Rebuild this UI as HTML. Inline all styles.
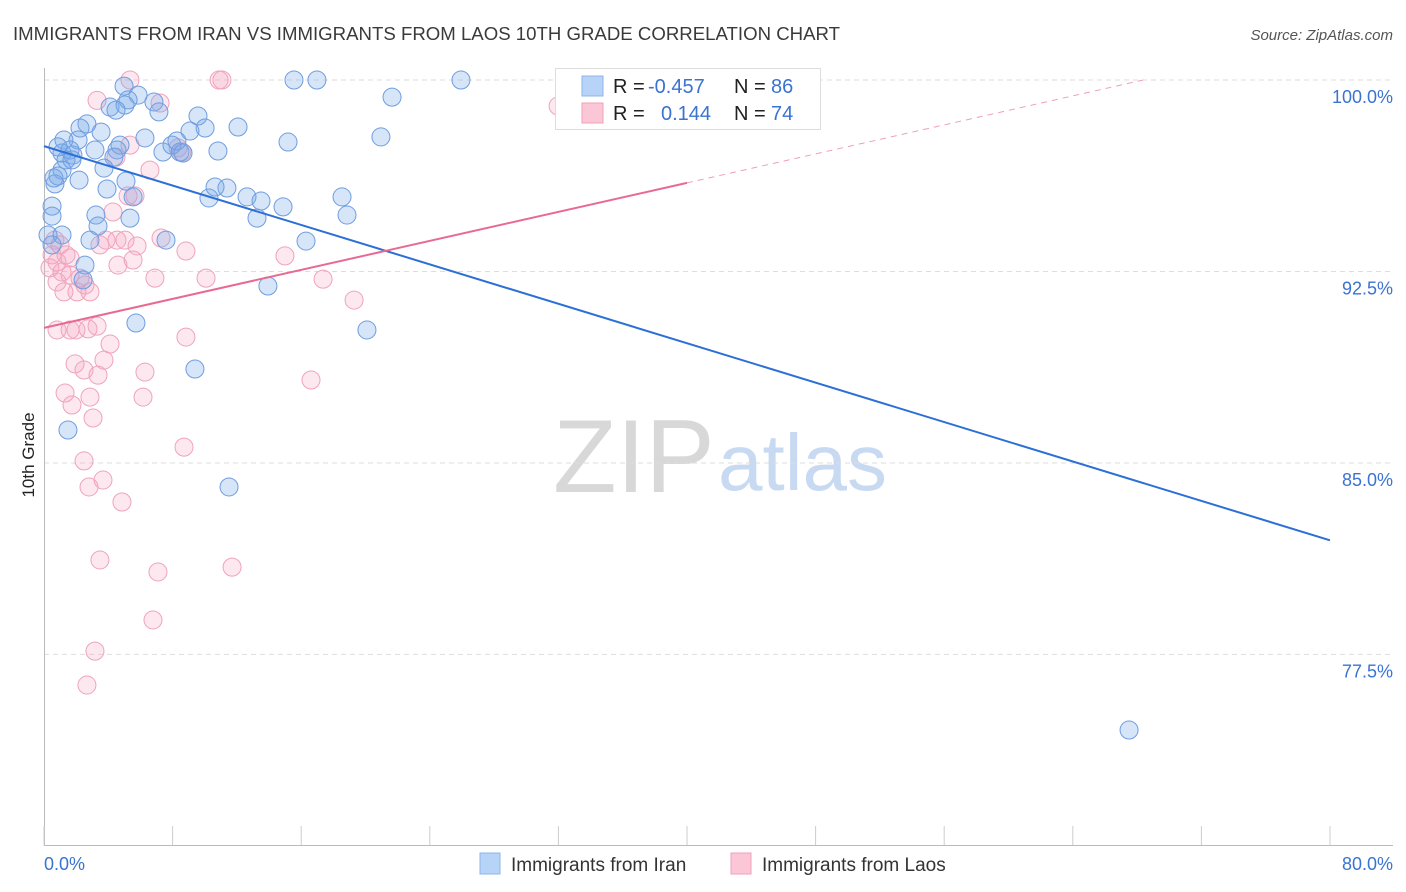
<!DOCTYPE html>
<html><head><meta charset="utf-8">
<style>
body{margin:0;background:#fff;font-family:"Liberation Sans",sans-serif;}
#wrap{position:relative;width:1406px;height:892px;overflow:hidden;}
svg text{font-family:"Liberation Sans",sans-serif;}
</style></head>
<body>
<div id="wrap">
<svg id="chart" width="1406" height="892">
<text x="13" y="40" font-size="18.5" fill="#3a3a3a" textLength="827" lengthAdjust="spacingAndGlyphs">IMMIGRANTS FROM IRAN VS IMMIGRANTS FROM LAOS 10TH GRADE CORRELATION CHART</text>
<text x="1393" y="40" font-size="15" fill="#555" font-style="italic" text-anchor="end">Source: ZipAtlas.com</text>
<text x="553" y="492" font-size="104" fill="#d8d8d8" font-family="Liberation Serif">ZIP</text>
<text x="718" y="490" font-size="80" fill="#c8daf2">atlas</text>
<text transform="translate(34,455) rotate(-90)" font-size="17" fill="#222" text-anchor="middle">10th Grade</text>
<g id="grid"></g><g id="axes"></g><g id="pts"></g><g id="lines"></g>
<g>
<rect x="555.5" y="68.5" width="265" height="61" fill="#fff" stroke="#ddd"/>
<rect x="582" y="76" width="21" height="20" fill="#b7d3f7" stroke="#8fb5ea"/>
<rect x="582" y="103" width="21" height="20" fill="#fbc7d6" stroke="#f0a0ba"/>
<text x="613" y="93" font-size="20" fill="#222">R = </text><text x="648" y="93" font-size="20" fill="#3a73d1">-0.457</text>
<text x="734" y="93" font-size="20" fill="#222">N = </text><text x="771" y="93" font-size="20" fill="#3a73d1">86</text>
<text x="613" y="120" font-size="20" fill="#222">R = </text><text x="661" y="120" font-size="20" fill="#3a73d1">0.144</text>
<text x="734" y="120" font-size="20" fill="#222">N = </text><text x="771" y="120" font-size="20" fill="#3a73d1">74</text>
</g>
<g>
<rect x="480" y="853" width="20" height="21" fill="#b7d3f7" stroke="#8fb5ea"/>
<text x="511" y="871" font-size="19" fill="#333">Immigrants from Iran</text>
<rect x="731" y="853" width="20" height="21" fill="#fbc7d6" stroke="#f0a0ba"/>
<text x="762" y="871" font-size="19" fill="#333">Immigrants from Laos</text>
</g>
</svg>
</div>
<script>
const yTicks=[100,92.5,85,77.5];
const yTickLabels=["100.0%","92.5%","85.0%","77.5%"];
const xTicks=[0,8,16,24,32,40,48,56,64,72,80];
const xTickLabels=["0.0%","80.0%"];
const iranX=[4.98,5.85,4.11,5.04,5.23,4.48,6.84,7.15,9.58,10.02,12.07,15.55,16.98,25.94,21.65,20.96,15.18,10.82,9.08,8.46,7.40,7.96,8.27,8.65,6.28,4.73,4.54,4.35,3.55,2.67,2.24,2.12,1.24,1.12,1.80,1.62,1.37,1.74,1.12,0.87,0.68,0.62,2.18,3.73,5.10,3.92,5.54,5.35,3.23,3.36,0.50,0.50,0.25,1.12,2.86,7.59,10.26,11.38,10.64,12.63,13.50,13.25,14.87,16.30,18.54,18.85,13.93,2.43,2.55,5.72,20.09,9.39,1.49,11.51,67.50,0.5,3.17,0.87];
const iranY=[99.76,99.41,98.94,99.02,99.22,98.82,99.14,98.75,98.59,98.12,98.16,100,100,100,99.33,97.77,97.57,97.22,98.0,97.18,97.18,97.45,97.61,97.14,97.73,97.45,97.26,96.98,97.96,98.28,98.12,97.65,97.65,97.14,97.06,97.26,96.87,96.87,96.47,96.24,95.93,96.16,96.08,96.55,96.04,95.73,95.42,94.59,94.71,94.28,95.06,94.67,93.93,93.93,93.73,93.73,95.38,95.77,95.81,95.42,95.26,94.59,95.03,93.69,95.42,94.71,91.93,92.17,92.75,90.48,90.21,88.68,86.29,84.06,74.54,93.54,97.26,97.38];
const laosX=[5.35,11.07,10.89,3.3,7.22,31.98,5.35,4.48,6.59,8.34,8.58,5.66,4.29,5.23,3.86,4.54,5.04,5.79,7.28,8.83,5.54,4.6,6.9,10.08,14.99,17.36,19.29,3.48,0.68,1.0,0.5,0.81,0.37,1.37,1.62,1.12,1.62,0.81,1.24,2.24,2.55,2.86,2.05,0.81,1.62,1.99,2.74,3.3,4.11,8.83,3.73,1.93,2.49,3.36,6.28,16.61,1.31,1.74,2.86,6.16,3.05,2.49,2.8,3.67,4.85,8.71,3.48,7.09,11.7,6.78,3.17,2.67];
const laosY=[100,100,100,99.2,99.1,98.98,97.45,96.98,96.47,97.34,97.18,95.46,94.83,95.46,93.73,93.73,93.73,93.5,93.81,93.3,92.95,92.75,92.24,92.24,93.11,92.2,91.38,93.54,93.73,93.54,93.15,92.87,92.64,93.15,93.03,92.48,92.36,92.09,91.7,92.24,91.97,91.7,91.7,90.21,90.21,90.21,90.25,90.36,89.66,89.93,89.03,88.88,88.64,88.44,88.56,88.25,87.74,87.27,87.58,87.58,86.76,85.08,84.06,84.33,83.47,85.62,81.2,80.73,80.92,78.85,77.63,76.3];
const iranFit=[97.41,-0.193];
const laosFit=[90.29,0.142];

const NS="http://www.w3.org/2000/svg";
const xs=v=>44+v*16.075;
const ys=v=>80+(100-v)*25.53;
function mk(tag,attrs,parent){const e=document.createElementNS(NS,tag);for(const k in attrs)e.setAttribute(k,attrs[k]);parent.appendChild(e);return e;}
const grid=document.getElementById('grid'),axes=document.getElementById('axes'),pts=document.getElementById('pts'),lines=document.getElementById('lines');
yTicks.forEach((t,i)=>{
 const l=mk('line',{x1:44,x2:1393,y1:ys(t),y2:ys(t),stroke:'#ddd','stroke-dasharray':'5,4'},grid);
 
 
 const tx=mk('text',{x:1393,y:ys(t)+23,'font-size':18,fill:'#3a73d1','text-anchor':'end'},axes);
 tx.textContent=yTickLabels[i];
 
 
});
mk('line',{x1:44.5,x2:44.5,y1:68,y2:845,stroke:'#bbb'},axes);
mk('line',{x1:44,x2:1393,y1:845.5,y2:845.5,stroke:'#bbb'},axes);
xTicks.forEach(t=>{const l=mk('line',{x1:xs(t),x2:xs(t),y1:826,y2:845,stroke:'#ccc'},axes);
 
 });
const x0=mk('text',{x:44,y:870,'font-size':18,fill:'#3a73d1'},axes);x0.textContent=xTickLabels[0];


const x1=mk('text',{x:1393,y:870,'font-size':18,fill:'#3a73d1','text-anchor':'end'},axes);x1.textContent=xTickLabels[1];


laosX.forEach((v,i)=>{const c=mk('circle',{cx:xs(v),cy:ys(laosY[i]),r:9,fill:'rgba(246,165,192,0.25)',stroke:'#efa3bc','stroke-width':1},pts);
 
 });
iranX.forEach((v,i)=>{const c=mk('circle',{cx:xs(v),cy:ys(iranY[i]),r:9,fill:'rgba(120,168,232,0.3)',stroke:'#6f9de0','stroke-width':1},pts);
 
 });
const bl=mk('line',{x1:xs(0),y1:ys(iranFit[0]),x2:xs(80),y2:ys(iranFit[0]+80*iranFit[1]),stroke:'#2c6fd6','stroke-width':2},lines);


const pl=mk('line',{x1:xs(0),y1:ys(laosFit[0]),x2:xs(40),y2:ys(laosFit[0]+40*laosFit[1]),stroke:'#e86a92','stroke-width':2},lines);


const xe=(100-laosFit[0])/laosFit[1];
const pd=mk('line',{x1:xs(40),y1:ys(laosFit[0]+40*laosFit[1]),x2:xs(xe),y2:ys(100),stroke:'#eea0b8','stroke-width':1,'stroke-dasharray':'6,5'},lines);


</script>
</body></html>
